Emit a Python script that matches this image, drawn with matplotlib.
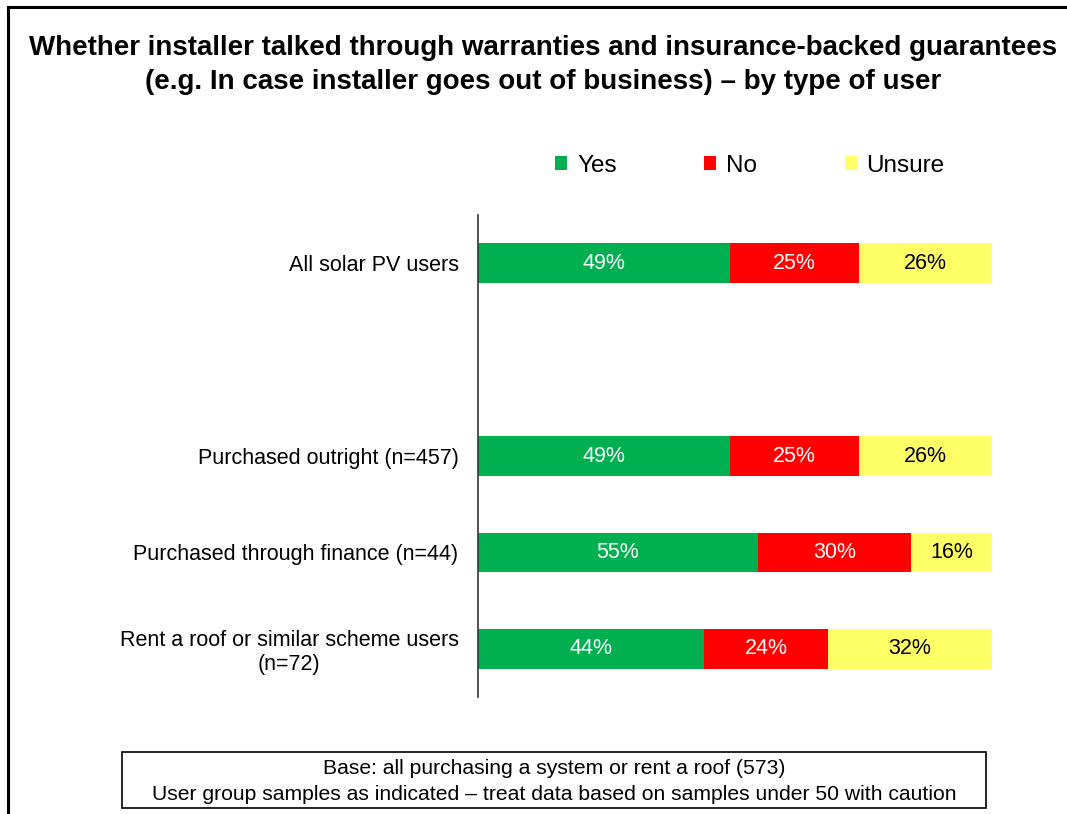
import matplotlib
matplotlib.use("Agg")
import matplotlib.pyplot as plt
from matplotlib.patches import Patch, Rectangle
from matplotlib.lines import Line2D
import numpy as np

plt.rcParams['font.family'] = ['Liberation Sans', 'DejaVu Sans']

# survey responses, % of each user group
groups = ['All solar PV users', '', 'Purchased outright (n=457)',
          'Purchased through finance (n=44)',
          'Rent a roof or similar scheme users\n(n=72)']
yes = [49, None, 49, 55, 44]
no = [25, None, 25, 30, 24]
unsure = [26, None, 26, 16, 32]

series = ['Yes', 'No', 'Unsure']
colors = ['#00B050', '#FF0000', '#FFFF66']
text_colors = ['white', 'white', 'black']

fig = plt.figure(figsize=(10.67, 8.14), dpi=100)
ax = fig.add_axes([0.448, 0.1437, 0.482, 0.5922])

for i, name in enumerate(groups):
    if yes[i] is None:
        continue
    vals = [yes[i], no[i], unsure[i]]
    total = sum(vals)
    left = 0
    for v, c, tc in zip(vals, colors, text_colors):
        w = v / total * 100  # rounded shares can add to 101
        ax.barh(i, w, left=left, height=0.41, color=c, edgecolor='none')
        ax.text(left + w / 2, i, f'{v}%', ha='center', va='center',
                fontsize=15.5, color=tc)
        left += w

ax.set_xlim(0, 100)
ax.set_ylim(4.5, -0.5)
for s in ['top', 'right', 'bottom']:
    ax.spines[s].set_visible(False)
ax.spines['left'].set_color('#333333')
ax.spines['left'].set_linewidth(1.2)
ax.set_xticks([])
ax.set_yticks(range(len(groups)))
ax.set_yticklabels(groups, fontsize=15.5, multialignment='center', linespacing=1.15)
ax.tick_params(axis='y', length=0, pad=14)

handles = [Patch(facecolor=c, edgecolor='none') for c in colors]
fig.legend(handles, series, loc='center', bbox_to_anchor=(750 / 1067, 1 - 166 / 814),
           ncol=3, frameon=False, fontsize=17.5, handlelength=0.5, handleheight=0.5,
           handletextpad=0.4, columnspacing=3.6)

fig.text(543 / 1067, 1 - 65 / 814,
         'Whether installer talked through warranties and insurance-backed guarantees\n'
         '(e.g. In case installer goes out of business) \u2013 by type of user',
         ha='center', va='center', fontsize=20, fontweight='bold', linespacing=1.4)

# footnote box
fig.patches.append(Rectangle((122 / 1067, 1 - 808 / 814), 864 / 1067, 56 / 814,
                             transform=fig.transFigure, facecolor='white',
                             edgecolor='black', linewidth=1.2))
fig.text(554 / 1067, 1 - 768 / 814, 'Base: all purchasing a system or rent a roof (573)',
         ha='center', va='center', fontsize=15.2)
fig.text(554 / 1067, 1 - 794 / 814,
         'User group samples as indicated \u2013 treat data based on samples under 50 with caution',
         ha='center', va='center', fontsize=15.2)

# outer frame (top and left edges)
fig.add_artist(Line2D([8 / 1067, 1], [1 - 7 / 814, 1 - 7 / 814],
                      transform=fig.transFigure, color='black', linewidth=2.2))
fig.add_artist(Line2D([8 / 1067, 8 / 1067], [0, 1 - 7 / 814],
                      transform=fig.transFigure, color='black', linewidth=2.2))

fig.savefig('out.png', dpi=100)
